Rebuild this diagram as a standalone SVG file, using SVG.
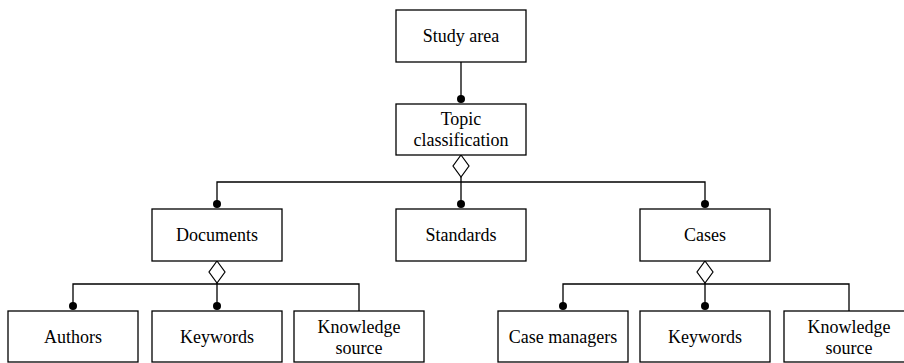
<svg xmlns="http://www.w3.org/2000/svg" width="904" height="363" viewBox="0 0 904 363">
  <style>
    .box { fill: #fff; stroke: #000; stroke-width: 1.3; }
    .lbl { font-family: "Liberation Serif", "Times New Roman", serif; font-size: 18px; fill: #000; text-anchor: middle; }
    .wire { fill: none; stroke: #000; stroke-width: 1.3; }
    .dot { fill: #000; }
    .agg { fill: #fff; stroke: #000; stroke-width: 1.2; }
  </style>
  <rect width="904" height="363" fill="#fff"/>

  <!-- connectors -->
  <g id="connectors">
    <path class="wire" d="M461,62 V99"/>
    <path class="wire" d="M461,177 V204 M217,204 V182 H705 V204"/>
    <path class="wire" d="M217,283 V306 M73,306 V284 H359 V311"/>
    <path class="wire" d="M705,283 V306 M563,306 V284 H849 V311"/>
    <polygon class="agg" points="461,155 469,166 461,177 453,166"/>
    <polygon class="agg" points="217,261 225,272 217,283 209,272"/>
    <polygon class="agg" points="705,261 713,272 705,283 697,272"/>
    <circle class="dot" cx="461" cy="99" r="4"/>
    <circle class="dot" cx="217" cy="204" r="4"/>
    <circle class="dot" cx="461" cy="204" r="4"/>
    <circle class="dot" cx="705" cy="204" r="4"/>
    <circle class="dot" cx="73" cy="306" r="4"/>
    <circle class="dot" cx="217" cy="306" r="4"/>
    <circle class="dot" cx="563" cy="306" r="4"/>
    <circle class="dot" cx="705" cy="306" r="4"/>
  </g>

  <!-- nodes -->
  <g id="study-area">
    <rect class="box" x="396" y="10" width="130" height="52"/>
    <text class="lbl" x="461" y="42">Study area</text>
  </g>
  <g id="topic-classification">
    <rect class="box" x="396" y="104" width="130" height="51"/>
    <text class="lbl" x="461" y="125">Topic</text>
    <text class="lbl" x="461" y="146">classification</text>
  </g>
  <g id="documents">
    <rect class="box" x="152" y="209" width="130" height="52"/>
    <text class="lbl" x="217" y="241">Documents</text>
  </g>
  <g id="standards">
    <rect class="box" x="396" y="209" width="130" height="52"/>
    <text class="lbl" x="461" y="241">Standards</text>
  </g>
  <g id="cases">
    <rect class="box" x="640" y="209" width="130" height="52"/>
    <text class="lbl" x="705" y="241">Cases</text>
  </g>
  <g id="authors">
    <rect class="box" x="8" y="311" width="130" height="51"/>
    <text class="lbl" x="73" y="343">Authors</text>
  </g>
  <g id="doc-keywords">
    <rect class="box" x="152" y="311" width="130" height="51"/>
    <text class="lbl" x="217" y="343">Keywords</text>
  </g>
  <g id="doc-knowledge-source">
    <rect class="box" x="294" y="311" width="130" height="51"/>
    <text class="lbl" x="359" y="333">Knowledge</text>
    <text class="lbl" x="359" y="354">source</text>
  </g>
  <g id="case-managers">
    <rect class="box" x="498" y="311" width="130" height="51"/>
    <text class="lbl" x="563" y="343">Case managers</text>
  </g>
  <g id="case-keywords">
    <rect class="box" x="640" y="311" width="130" height="51"/>
    <text class="lbl" x="705" y="343">Keywords</text>
  </g>
  <g id="case-knowledge-source">
    <rect class="box" x="784" y="311" width="130" height="51"/>
    <text class="lbl" x="849" y="333">Knowledge</text>
    <text class="lbl" x="849" y="354">source</text>
  </g>
</svg>
